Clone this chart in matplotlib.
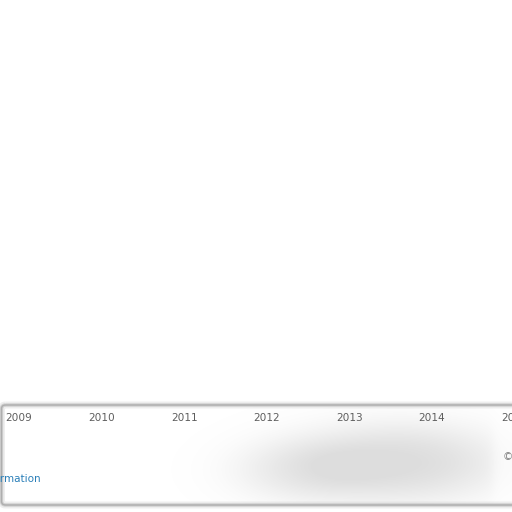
import matplotlib

matplotlib.use("Agg")
import matplotlib.pyplot as plt
import numpy as np
from matplotlib.patches import FancyBboxPatch

# timeline strip of an otherwise empty chart
years = [2009, 2010, 2011, 2012, 2013, 2014, 2015]
link_text = "Information"
copyright_text = "\u00a9"

W = H = 512
fig = plt.figure(figsize=(5.12, 5.12), dpi=100)
fig.patch.set_facecolor("white")

# background axes in pixel units for the panel decoration
bg = fig.add_axes([0, 0, 1, 1])
bg.set_xlim(0, W)
bg.set_ylim(H, 0)
bg.axis("off")

# soft, wide shadow inside the panel
yy, xx = np.mgrid[0:H, 0:W]
blob = np.exp(-(((xx - 400) / 105.0) ** 2 + ((yy - 462) / 40.0) ** 2) ** 1.2)
blob += 0.5 * np.exp(-(((xx - 300) / 70.0) ** 2 + ((yy - 470) / 32.0) ** 2) ** 1.2)
fade = 1.0 - 0.6 / (1.0 + np.exp(-(xx - 493) / 3.0))
blob = np.clip(blob * fade, 0, 1)
rgba = np.zeros((H, W, 4))
rgba[..., :3] = 0.74
rgba[..., 3] = 0.5 * blob
mask = (yy > 406) & (yy < 504)
rgba[~mask, 3] = 0
bg.imshow(rgba, extent=(0, W, H, 0), zorder=1, interpolation="bilinear")

# panel outline (blurry grey edge)
for lw, col, a in [(5, "#c8c8c8", 0.3), (2.5, "#b8b8b8", 0.55), (1.0, "#a8a8a8", 0.85)]:
    bg.add_patch(FancyBboxPatch((1.5, 405), 530, 100,
                                boxstyle="round,pad=0,rounding_size=4",
                                fc="none", ec=col, lw=lw, alpha=a, zorder=2))

# year axis: 2009 centred at ~19 px, ~82.6 px per year
ax = fig.add_axes([0, 0, 1, 1], facecolor="none")
px_per_year = 82.6
x0 = years[0] - 19 / px_per_year
ax.set_xlim(x0, x0 + W / px_per_year)
ax.set_ylim(H, 0)
ax.axis("off")

for y in years:
    ax.text(y, 418, str(y), ha="center", va="center", fontsize=7.6,
            color="#5e5e5e", fontfamily="DejaVu Sans", zorder=3)

bg.text(41, 479, link_text, ha="right", va="center", fontsize=7.5,
        color="#2a7fb8", zorder=3)
bg.text(503, 457, copyright_text, ha="left", va="center", fontsize=7.5,
        color="#808080", zorder=3)

fig.savefig("out.png", dpi=100)
